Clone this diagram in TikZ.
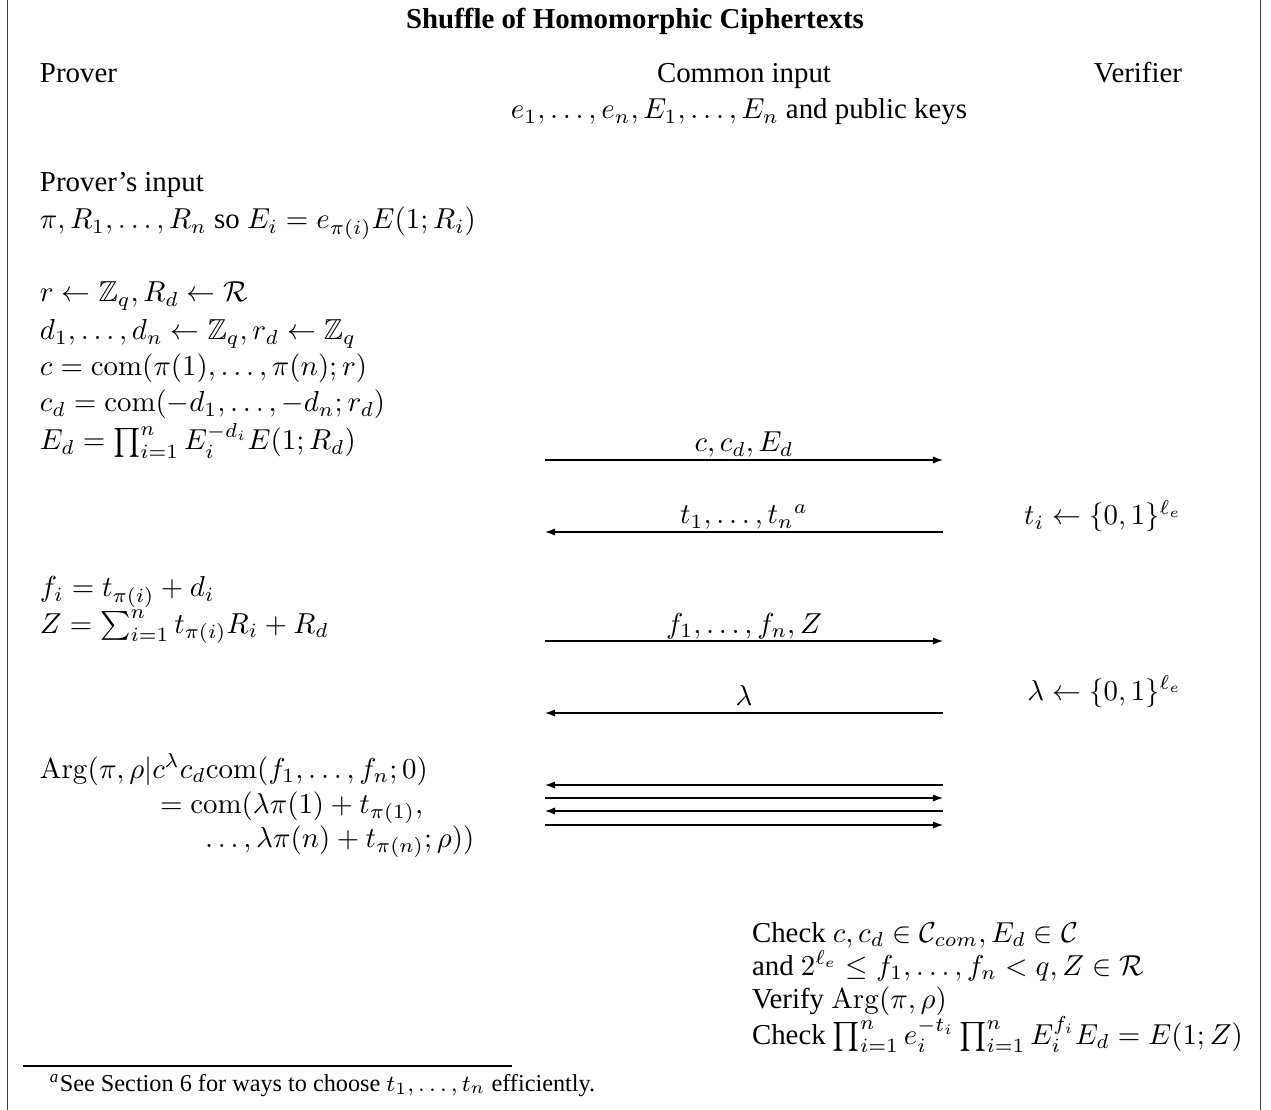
\documentclass[tikz,border=0pt]{standalone}
\usepackage{amsmath,amssymb}
\usepackage[no-math]{fontspec}
\setmainfont{Liberation Serif}
\usetikzlibrary{arrows.meta}
\begin{document}
\begin{tikzpicture}[x=0.3465pt,y=-0.3465pt,
  txt/.style={inner sep=0pt,outer sep=0pt,anchor=base west},
  ctr/.style={inner sep=0pt,outer sep=0pt,anchor=base},
  rgt/.style={inner sep=0pt,outer sep=0pt,anchor=base east},
  msg/.style={line width=0.4pt,-{Latex[length=3.5pt,width=2.5pt]}},
  frame/.style={line width=0.5pt,black!75}]
\useasboundingbox (0,0) rectangle (1271,1110);
% frame
\draw[frame] (7.5,0) -- (7.5,1110);
\draw[frame] (1260.5,0) -- (1260.5,1110);
% header
\node[ctr,font=\bfseries] (title) at (635,29) {Shuffle of Homomorphic Ciphertexts};
\node[txt] (prover) at (40,83) {Prover};
\node[ctr] (common) at (744,83) {Common input};
\node[rgt] (verifier) at (1182,83) {Verifier};
\node[ctr] (cin) at (739,119) {$e_1,\ldots,e_n,E_1,\ldots,E_n$ and public keys};
% prover input
\node[txt] (pin) at (40,192) {Prover's input};
\node[txt] (pin2) at (40,229) {$\pi,R_1,\ldots,R_n$ so $E_i=e_{\pi(i)}E(1;R_i)$};
% first move
\node[txt] (p1) at (40,302) {$r\leftarrow\mathbb{Z}_q,R_d\leftarrow\mathcal{R}$};
\node[txt] (p2) at (40,340) {$d_1,\ldots,d_n\leftarrow\mathbb{Z}_q,r_d\leftarrow\mathbb{Z}_q$};
\node[txt] (p3) at (40,376) {$c=\mathrm{com}(\pi(1),\ldots,\pi(n);r)$};
\node[txt] (p4) at (40,412) {$c_d=\mathrm{com}(-d_1,\ldots,-d_n;r_d)$};
\node[txt] (p5) at (40,450) {$E_d=\prod_{i=1}^n E_i^{-d_i}E(1;R_d)$};
% arrows
\coordinate (a1l) at (545,460); \coordinate (a1r) at (943,460);
\draw[msg] (a1l) -- (a1r);
\node[ctr] (l1) at (744,452) {$c,c_d,E_d$};
\coordinate (a2l) at (545,532); \coordinate (a2r) at (943,532);
\draw[msg] (a2r) -- (a2l);
\node[ctr] (l2) at (744,524) {$t_1,\ldots,t_n{}^{a}$};
\node[rgt] (v1) at (1182,525) {$t_i\leftarrow\{0,1\}^{\ell_e}$};
\node[txt] (p6) at (40,597) {$f_i=t_{\pi(i)}+d_i$};
\node[txt] (p7) at (40,633) {$Z=\sum_{i=1}^n t_{\pi(i)}R_i+R_d$};
\coordinate (a3l) at (545,641); \coordinate (a3r) at (943,641);
\draw[msg] (a3l) -- (a3r);
\node[ctr] (l3) at (744,633) {$f_1,\ldots,f_n,Z$};
\coordinate (a4l) at (545,713); \coordinate (a4r) at (943,713);
\draw[msg] (a4r) -- (a4l);
\node[ctr] (l4) at (744,705) {$\lambda$};
\node[rgt] (v2) at (1182,700) {$\lambda\leftarrow\{0,1\}^{\ell_e}$};
% argument
\node[txt] (g1) at (40,778) {$\mathrm{Arg}(\pi,\rho|c^\lambda c_d\mathrm{com}(f_1,\ldots,f_n;0)$};
\node[txt] (g2) at (160,813) {$=\mathrm{com}(\lambda\pi(1)+t_{\pi(1)},$};
\node[txt] (g3) at (205,847) {$\ldots,\lambda\pi(n)+t_{\pi(n)};\rho))$};
\coordinate (b1l) at (545,785); \coordinate (b1r) at (943,785);
\coordinate (b2l) at (545,798); \coordinate (b2r) at (943,798);
\coordinate (b3l) at (545,811); \coordinate (b3r) at (943,811);
\coordinate (b4l) at (545,825); \coordinate (b4r) at (943,825);
\draw[msg] (b1r) -- (b1l);
\draw[msg] (b2l) -- (b2r);
\draw[msg] (b3r) -- (b3l);
\draw[msg] (b4l) -- (b4r);
% verification
\node[txt] (c1) at (752,942) {Check $c,c_d\in\mathcal{C}_{com},E_d\in\mathcal{C}$};
\node[txt] (c2) at (752,975) {and $2^{\ell_e}\le f_1,\ldots,f_n<q,Z\in\mathcal{R}$};
\node[txt] (c3) at (752,1008) {Verify $\mathrm{Arg}(\pi,\rho)$};
\node[txt] (c4) at (752,1044) {Check $\prod_{i=1}^n e_i^{-t_i}\prod_{i=1}^n E_i^{f_i}E_d=E(1;Z)$};
% footnote
\coordinate (fnl) at (23,1066); \coordinate (fnr) at (512,1066);
\draw[line width=0.4pt] (fnl) -- (fnr);
\node[txt,font=\fontsize{8.4}{10}\selectfont] (fn) at (50,1091) {\textsuperscript{\itshape a}See Section 6 for ways to choose $t_1,\ldots,t_n$ efficiently.};
\end{tikzpicture}
\end{document}
